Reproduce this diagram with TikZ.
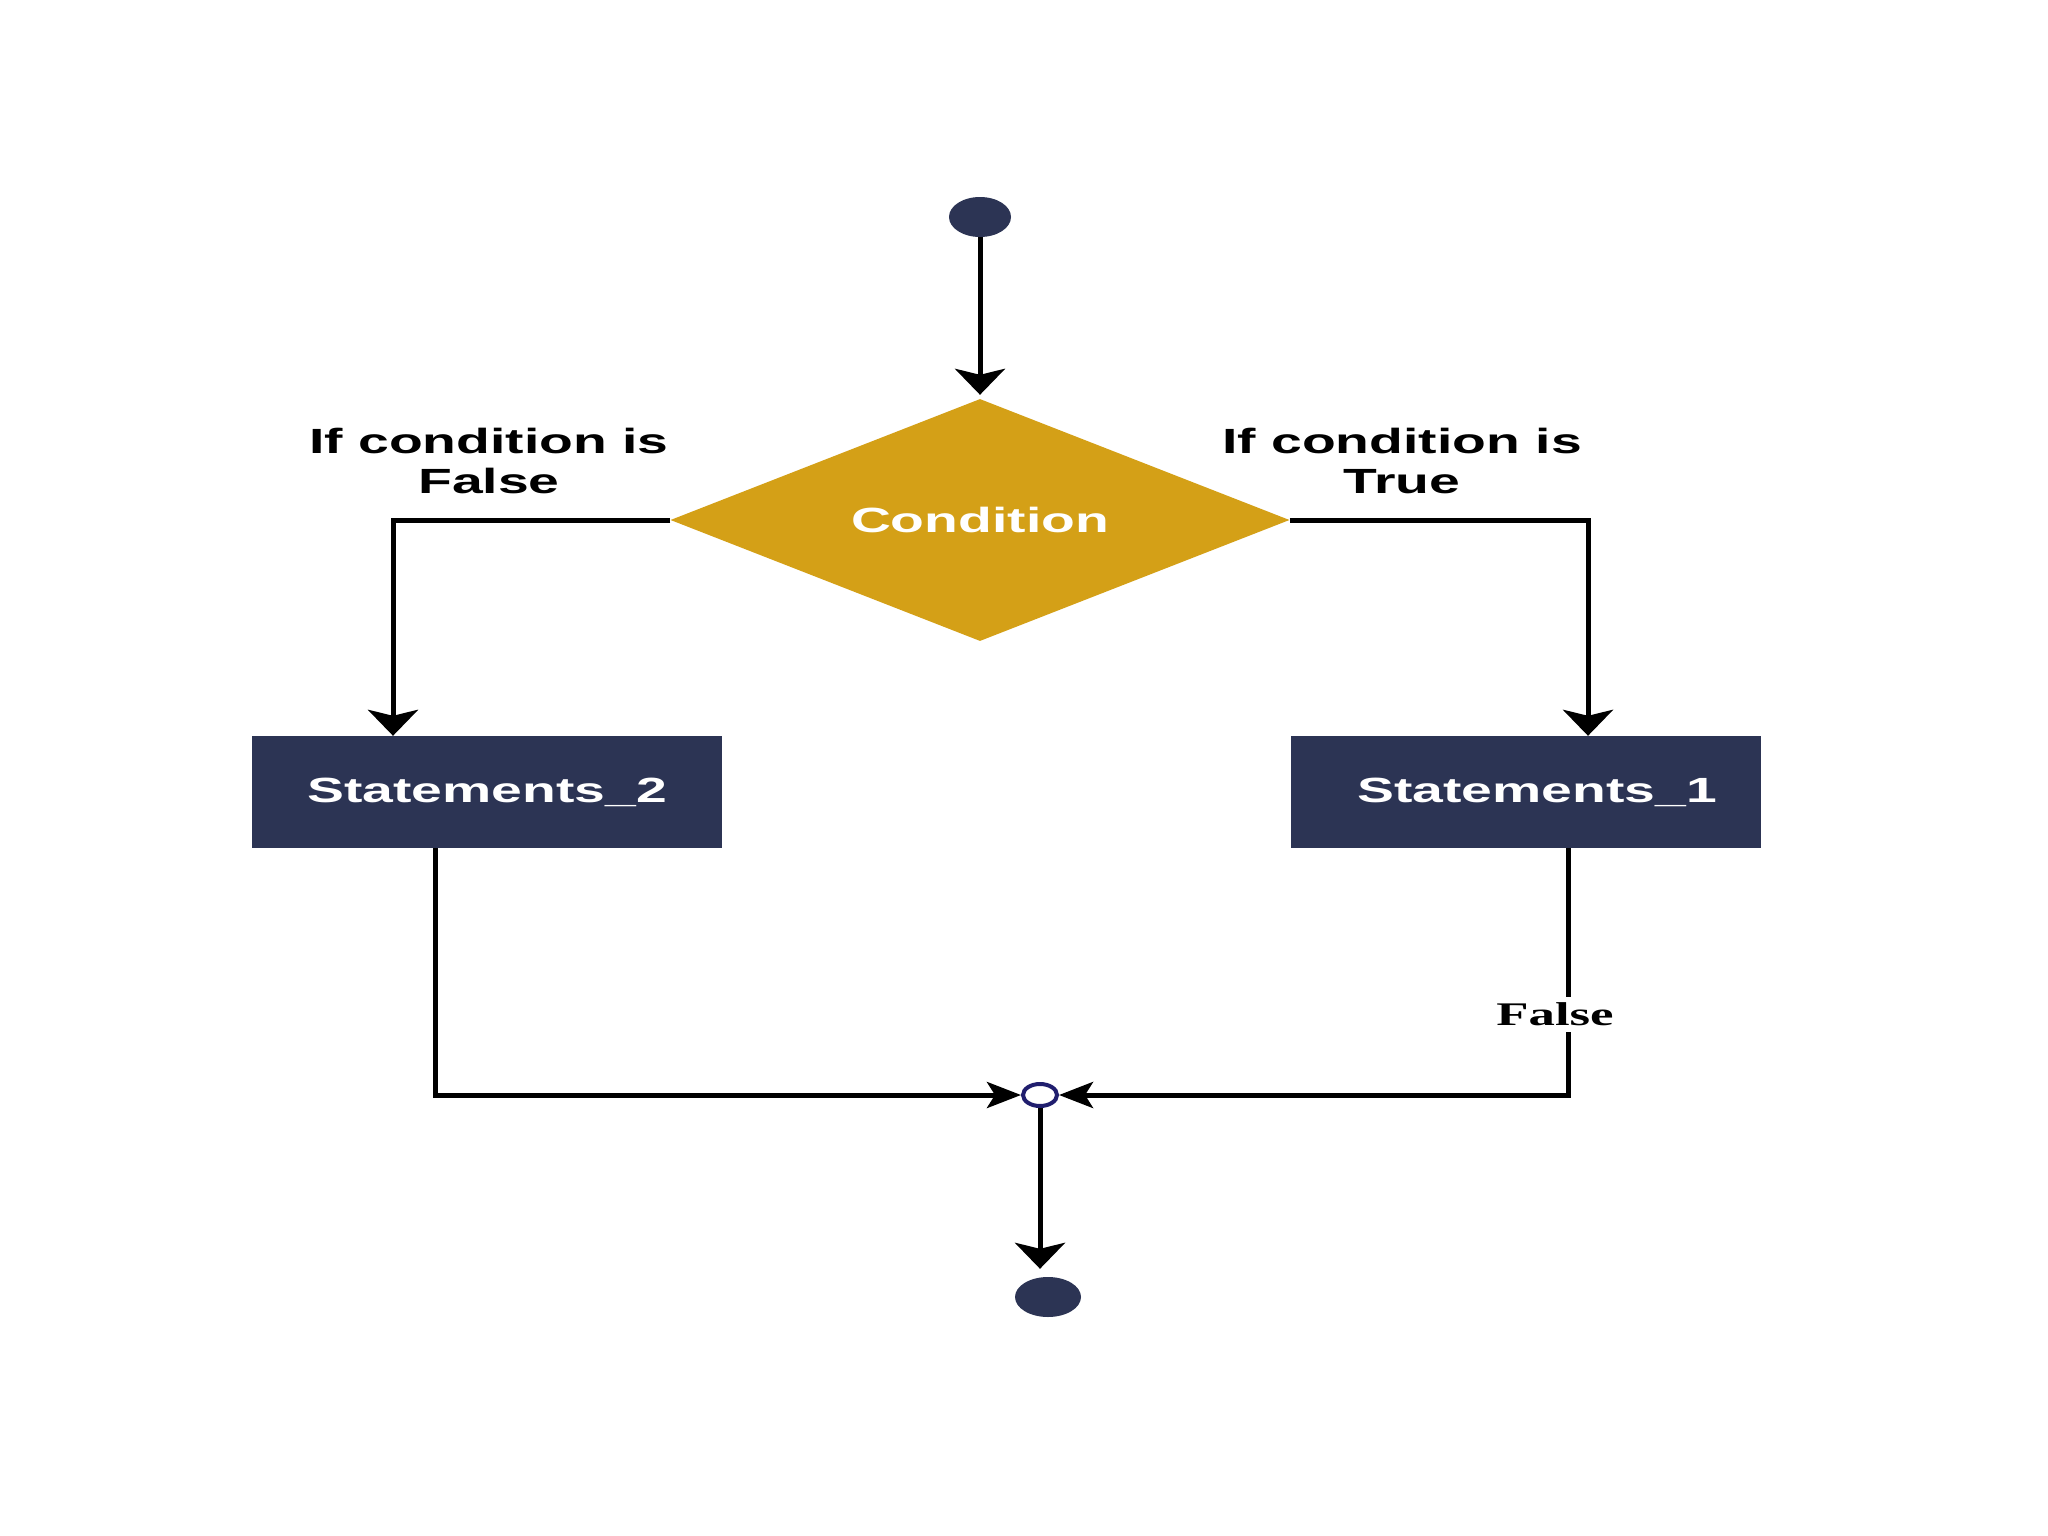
\documentclass[tikz,border=0pt]{standalone}
\usepackage{fontspec}
\setmainfont{Liberation Sans}
\newfontfamily\labfont[UprightFont={* Bold},FakeStretch=1.58]{Liberation Sans}
\newfontfamily\serfont[UprightFont={* Bold},FakeStretch=1.6]{Liberation Serif}
\usetikzlibrary{shapes.geometric,arrows.meta}
\definecolor{navy}{RGB}{44,52,84}
\definecolor{gold}{RGB}{212,160,23}
\definecolor{jblue}{RGB}{32,30,110}
\tikzset{
  term/.style={ellipse, fill=navy, inner sep=0pt},
  stmt/.style={rectangle, fill=navy, minimum width=470pt, minimum height=112pt, inner sep=0pt,
    text=white, font=\labfont\fontsize{35}{40}\selectfont},
  decision/.style={diamond, fill=gold, aspect=2.558, minimum width=619pt, minimum height=242pt,
    inner sep=0pt, text=white, font=\labfont\fontsize{35}{40}\selectfont},
  lbl/.style={align=center, text=black, font=\labfont\fontsize{35}{40}\selectfont},
  flow/.style={line width=5pt, draw=black},
  vtip/.style={-{Stealth[length=26pt,width=50pt,inset=6pt]}},
  htip/.style={-{Stealth[length=34pt,width=26pt,inset=8pt]}},
}
\begin{document}
\begin{tikzpicture}[x=1pt,y=-1pt]
\useasboundingbox[fill=white] (0,0) rectangle (2048,1536);
\node[term, minimum width=62pt, minimum height=40pt] (start) at (980,217) {};
\node[decision] (cond) at (980,520) {Condition};
\node[stmt] (s2) at (487,792) {Statements\_2};
\node[stmt] (s1) at (1526,792) {\hspace*{22pt}Statements\_1};
\node[lbl] (lf) at (489,461) {If condition is\\False};
\node[lbl] (lt) at (1402,461) {If condition is\\True};
\node[ellipse, draw=jblue, fill=white, line width=4pt, minimum width=34pt, minimum height=22pt, inner sep=0pt] (junc) at (1040,1095) {};
\node[term, minimum width=66pt, minimum height=40pt] (end) at (1048,1297) {};

\draw[flow, vtip, shorten >=4pt] (start.south) -- (cond.north);
\draw[flow, vtip] (cond.west) -| ([xshift=-94pt]s2.north);
\draw[flow, vtip] (cond.east) -| ([xshift=62pt]s1.north);
\draw[flow, htip] ([xshift=-52pt]s2.south) |- (junc.west);
\draw[flow, htip] ([xshift=42pt]s1.south) |- (junc.east);
\draw[flow, vtip, shorten >=8pt] (junc.south) -- (junc.south |- end.north);
\node[fill=white, inner sep=3pt, minimum height=35pt, font=\serfont\fontsize{33}{36}\selectfont] (fl) at (1555,1014) {False};
\end{tikzpicture}
\end{document}
